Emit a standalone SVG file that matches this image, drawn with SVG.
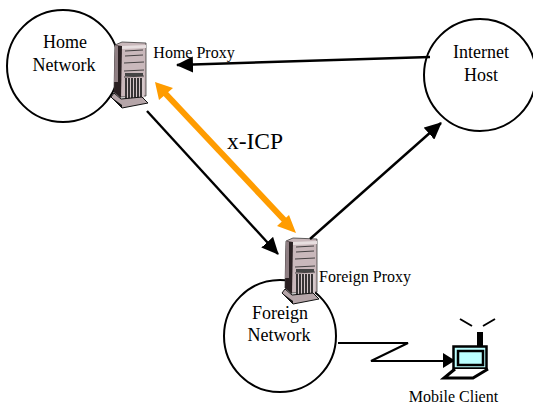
<svg xmlns="http://www.w3.org/2000/svg" width="533" height="404" viewBox="0 0 533 404">
<style>
text{font-family:"Liberation Serif",serif;fill:#000;text-anchor:middle}
.c{fill:none;stroke:#000;stroke-width:2}
.l{fill:none;stroke:#000;stroke-width:2.4}
.n{font-size:18px}
.s{font-size:16px}
.k{fill:none;stroke:#000;stroke-width:2}
</style>
<defs>
<marker id="a" markerUnits="userSpaceOnUse" markerWidth="17" markerHeight="16" refX="16" refY="8" orient="auto"><path d="M0 0L17 8L0 16Z" fill="#000"/></marker>
<g id="srv">
<path d="M-13 -31L-6 -34L18 -33L18 20L-8 21L-14 16Z" fill="#c9b8bb" stroke="#222" stroke-width=".7"/>
<path d="M-13 -31L-6 -30L-7 22L-14 16Z" fill="#2a2022"/>
<path d="M-13 -31L-10 -30L-10 6L-14 6Z" fill="#8f7f83"/>
<path d="M-6 -30L18 -31V-28L-6 -27Z" fill="#e8dfe0"/>
<path d="M-3 -25L15 -26M-3 -20L15 -21M-4 -13L16 -14M-4 -5L16 -6M-4 1L16 0" stroke="#222" stroke-width=".8" fill="none"/>
<rect x="-3" y="-3" width="18" height="3" fill="#444"/>
<path d="M-3 2H16V24H-3Z" fill="#d5c8ca"/>
<path d="M-2 2V24M1 2V24M4 2V24M7 2V24M10 2V24M13 2V24" stroke="#111" stroke-width="1.6"/>
<path d="M-17 21L-14 17L-7 23L14 21L20 27L-6 32Z" fill="#b5a5a8" stroke="#111"/>
<path d="M-17 21L-6 29V32Z" fill="#111"/>
</g>
</defs>
<g id="home-network"><circle class="c" cx="63" cy="66" r="56"/><text class="n" x="65" y="48">Home</text><text class="n" x="64" y="71">Network</text></g>
<g id="internet-host"><circle class="c" cx="480" cy="75" r="56"/><text class="n" x="481" y="58">Internet</text><text class="n" x="481" y="81">Host</text></g>
<g id="foreign-network"><circle class="c" cx="280" cy="336" r="56"/><text class="n" x="280" y="319">Foreign</text><text class="n" x="279" y="341">Network</text></g>
<g id="home-proxy"><use href="#srv" x="128" y="76"/><text class="s" x="194" y="58">Home Proxy</text></g>
<g id="foreign-proxy"><use href="#srv" x="299" y="272"/><text class="s" x="365" y="282">Foreign Proxy</text></g>
<g id="connectors">
<path class="l" d="M430 57L177 65" marker-end="url(#a)"/>
<path class="l" d="M147 111L278 254" marker-end="url(#a)"/>
<path class="l" d="M310 239L441 123" marker-end="url(#a)"/>
<path class="c" d="M338 343H408L371 361H445"/>
<path d="M443 353L455 360.500L443 368Z" fill="#000"/>
<path d="M163 91L288 224" stroke="#ff9c00" stroke-width="6" fill="none"/>
<path d="M155 82L173 88L159 100Z M296 233L277 226L289 215Z" fill="#ff9c00"/>
</g>
<text x="255" y="149" style="font-size:23.5px">x-ICP</text>
<g id="mobile-client">
<path d="M460 319L472 326M495 319L483 326" class="k"/>
<path d="M480 332V346" stroke="#000" stroke-width="6"/>
<rect x="453.500" y="346.500" width="33" height="22" fill="#bff" stroke="#000" stroke-width="2.500"/>
<rect x="458" y="351" width="25" height="14" fill="#bff" stroke="#000" stroke-width="2.500"/>
<path d="M455 369L444 378H473L488 369" fill="#fff" stroke="#000" stroke-width="3"/>
<text class="s" x="453.500" y="402">Mobile Client</text>
</g>
</svg>
